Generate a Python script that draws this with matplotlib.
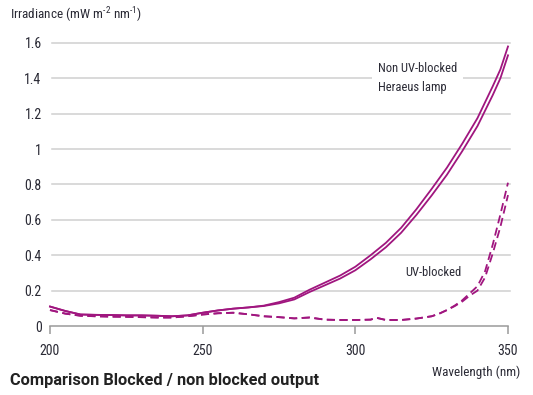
import matplotlib
matplotlib.use("Agg")
import matplotlib.pyplot as plt
from matplotlib import font_manager

names = {f.name for f in font_manager.fontManager.ttflist}
NARROW = "Roboto Condensed" if "Roboto Condensed" in names else "DejaVu Sans"
BOLD = "Roboto" if "Roboto" in names else "DejaVu Sans"

plt.rcParams["mathtext.fontset"] = "custom"
plt.rcParams["mathtext.rm"] = NARROW
plt.rcParams["mathtext.it"] = NARROW
plt.rcParams["mathtext.default"] = "regular"

# ---- data ----
wl_solid = [200, 205, 210, 215, 220, 225, 230, 235, 240, 245, 250, 255, 260, 265, 270, 275,
            280, 285, 290, 295, 300, 305, 310, 315, 320, 325, 330, 335, 340, 345, 347.5, 350]
solid_a = [0.110, 0.085, 0.065, 0.063, 0.062, 0.060, 0.060, 0.058, 0.055, 0.060, 0.075, 0.088,
           0.098, 0.105, 0.115, 0.135, 0.160, 0.205, 0.245, 0.285, 0.335, 0.400, 0.470, 0.555,
           0.660, 0.775, 0.895, 1.030, 1.175, 1.355, 1.450, 1.580]
solid_b = [0.110, 0.085, 0.065, 0.063, 0.062, 0.060, 0.060, 0.058, 0.055, 0.060, 0.075, 0.088,
           0.098, 0.105, 0.113, 0.128, 0.150, 0.192, 0.230, 0.268, 0.315, 0.377, 0.445, 0.527,
           0.628, 0.738, 0.855, 0.988, 1.130, 1.305, 1.400, 1.530]

wl_dash = [200, 205, 210, 215, 220, 225, 230, 235, 240, 245, 250, 255, 260, 265, 270, 275,
           280, 285, 290, 295, 300, 305, 307, 310, 315, 320, 325, 327.5, 330, 332.5, 335,
           337.5, 340, 342.5, 345, 347.5, 350]
dash_a = [0.090, 0.070, 0.058, 0.055, 0.053, 0.052, 0.050, 0.048, 0.048, 0.055, 0.065, 0.072,
          0.075, 0.066, 0.055, 0.050, 0.043, 0.048, 0.036, 0.034, 0.034, 0.036, 0.046, 0.034,
          0.034, 0.042, 0.055, 0.070, 0.090, 0.115, 0.145, 0.185, 0.225, 0.310, 0.460, 0.630, 0.810]
dash_b = [0.090, 0.070, 0.058, 0.055, 0.053, 0.052, 0.050, 0.048, 0.048, 0.055, 0.065, 0.072,
          0.075, 0.066, 0.055, 0.050, 0.043, 0.048, 0.036, 0.034, 0.034, 0.036, 0.046, 0.034,
          0.034, 0.042, 0.055, 0.070, 0.090, 0.112, 0.138, 0.172, 0.200, 0.275, 0.410, 0.560, 0.740]

x_ticks = [200, 250, 300, 350]
y_ticks = [0, 0.2, 0.4, 0.6, 0.8, 1.0, 1.2, 1.4, 1.6]
y_labels = ["0", "0.2", "0.4", "0.6", "0.8", "1", "1.2", "1.4", "1.6"]

COLOR = "#a0167f"
TXT = "#2a2a35"

fig = plt.figure(figsize=(5.33, 3.95), dpi=100)
ax = fig.add_axes([50 / 533, 1 - 326 / 395, 458 / 533, (326 - 39.4) / 395])
ax.set_xlim(200, 350)
ax.set_ylim(0, 1.62)

for y in y_ticks[1:]:
    ax.plot([200.5, 350.5], [y, y], color="#cfcfcf", lw=1.1, zorder=1, clip_on=False)

ax.plot(wl_solid, solid_a, color=COLOR, lw=1.3, zorder=3, clip_on=False)
ax.plot(wl_solid, solid_b, color=COLOR, lw=1.3, zorder=3, clip_on=False)
ax.plot(wl_dash, dash_a, color=COLOR, lw=1.3, ls=(0, (4.5, 2.5)), zorder=3, clip_on=False)
ax.plot(wl_dash, dash_b, color=COLOR, lw=1.3, ls=(0, (4.5, 2.5)), zorder=3, clip_on=False)

for s in ["top", "right", "left"]:
    ax.spines[s].set_visible(False)
ax.spines["bottom"].set_color("#9a9a9a")
ax.spines["bottom"].set_linewidth(1.1)

ax.set_xticks(x_ticks)
ax.set_xticklabels([str(v) for v in x_ticks], fontfamily=NARROW, fontsize=10, color=TXT)
ax.tick_params(axis="x", length=6, width=1.1, color="#9a9a9a", pad=7)
ax.set_yticks(y_ticks)
ax.set_yticklabels(y_labels, fontfamily=NARROW, fontsize=10, color=TXT)
ax.tick_params(axis="y", length=0, pad=6)

fig.text(10 / 533, 1 - 15 / 395, r"Irradiance (mW m$^{\text{-}2}$ nm$^{\text{-}1}$)", fontfamily=NARROW,
         fontsize=9.5, color=TXT, ha="left", va="center")
fig.text(10 / 533, 1 - 380 / 395, "Comparison Blocked / non blocked output", fontfamily=BOLD,
         fontweight="bold", fontsize=11.8, color="#222222", ha="left", va="center")
fig.text(520 / 533, 1 - 372 / 395, "Wavelength (nm)", fontfamily=NARROW,
         fontsize=9.5, color=TXT, ha="right", va="center")

ax.text(307.4, 1.4, "Non UV-blocked\nHeraeus lamp", fontfamily=NARROW, fontsize=9, color=TXT,
        ha="left", va="center", multialignment="left", linespacing=1.6, zorder=2,
        bbox=dict(facecolor="white", edgecolor="none", pad=4))
ax.text(316.3, 0.305, "UV-blocked", fontfamily=NARROW, fontsize=9, color=TXT, ha="left", va="center")

fig.savefig("out.png", dpi=100)
